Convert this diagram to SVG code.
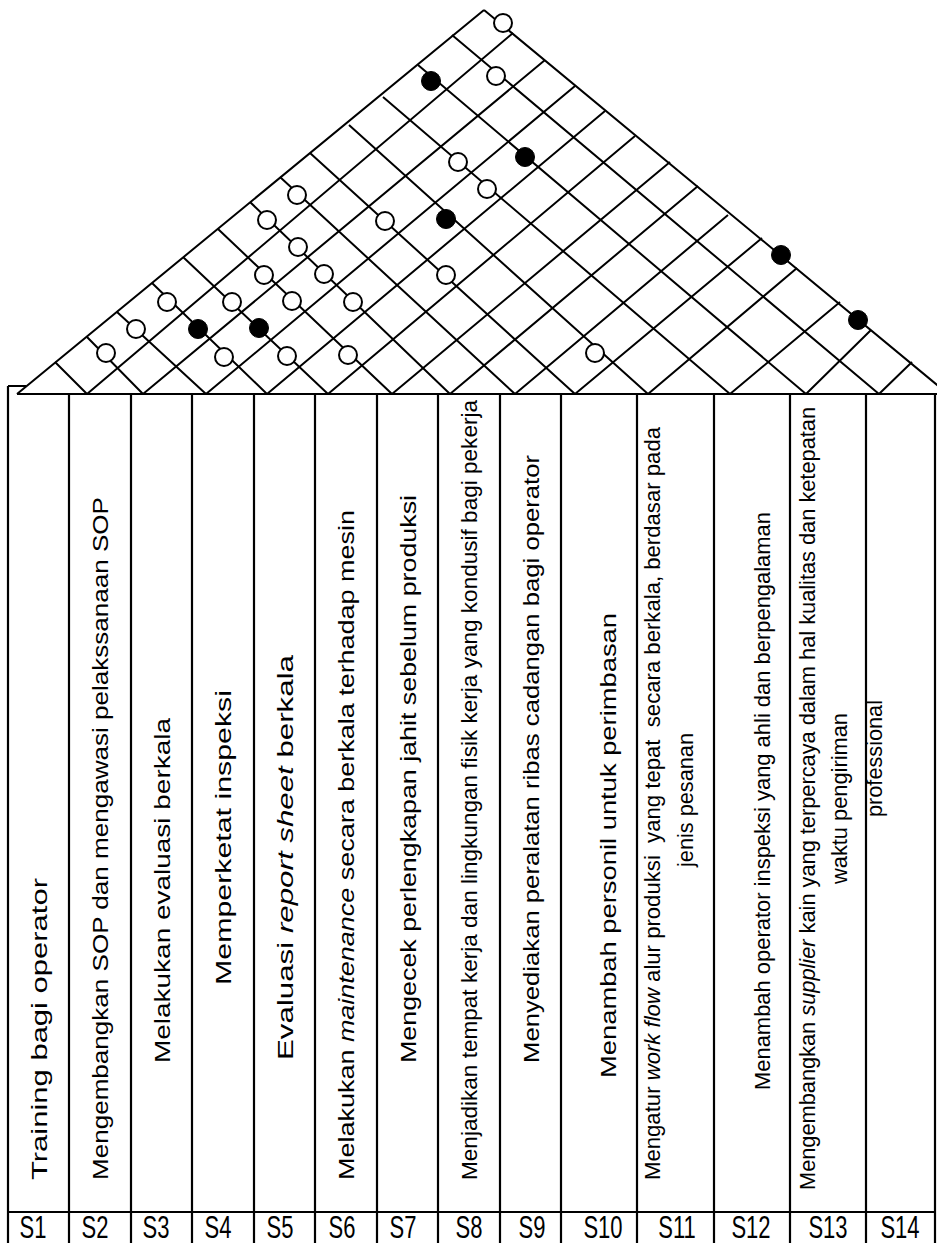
<svg xmlns="http://www.w3.org/2000/svg" width="937" height="1243" viewBox="0 0 937 1243">
<style>
.ln{stroke:#000;stroke-width:2;fill:none}
.tl{stroke:#000;stroke-width:2.2;fill:none}
.oc{fill:#fff;stroke:#000;stroke-width:2}
.fc{fill:#000;stroke:#000;stroke-width:1}
.t{font-family:"Liberation Sans",Arial,sans-serif;font-size:21.8px;fill:#000}
.s{font-family:"Liberation Sans",Arial,sans-serif;font-size:22px;fill:#000}
</style>
<rect width="937" height="1243" fill="#fff"/>
<g id="connectors">
<path class="ln" d="M17,394 L484,10 M484,10 L948,394 M17,394 L937,394"/>
<path class="ln" d="M87,394 L513,33 M143,394 L545,60 M206,394 L575,86 M267,394 L605,111 M328,394 L635,136 M392,394 L670,162 M450,394 L698,186 M515,394 L728,215 M575,394 L762,238 M648,394 L797,268 M730,394 L840,302 M806,394 L871,330 M879,394 L912,362"/>
<path class="ln" d="M55,362 L87,394 M87,337 L143,394 M117,312 L206,394 M152,283 L267,394 M183,257 L328,394 M218,229 L392,394 M250,202 L450,394 M280,177 L515,394 M310,153 L575,394 M349,125 L648,394 M383,97 L730,394 M418,65 L806,394 M452,35 L879,394"/>
</g>
<g id="correlations">
<circle class="oc" cx="503" cy="23" r="9"/>
<circle class="oc" cx="496" cy="76" r="9"/>
<circle class="oc" cx="458" cy="162" r="9"/>
<circle class="oc" cx="487" cy="189" r="9"/>
<circle class="oc" cx="297" cy="195" r="9"/>
<circle class="oc" cx="267" cy="220" r="9"/>
<circle class="oc" cx="385" cy="221" r="9"/>
<circle class="oc" cx="264" cy="275" r="9"/>
<circle class="oc" cx="324" cy="274" r="9"/>
<circle class="oc" cx="446" cy="275" r="9"/>
<circle class="oc" cx="298" cy="247" r="9"/>
<circle class="oc" cx="167" cy="302" r="9"/>
<circle class="oc" cx="232" cy="302" r="9"/>
<circle class="oc" cx="292" cy="301" r="9"/>
<circle class="oc" cx="353" cy="302" r="9"/>
<circle class="oc" cx="136" cy="329" r="9"/>
<circle class="oc" cx="106" cy="353" r="9"/>
<circle class="oc" cx="224" cy="357" r="9"/>
<circle class="oc" cx="287" cy="356" r="9"/>
<circle class="oc" cx="348" cy="355" r="9"/>
<circle class="oc" cx="595" cy="353" r="9"/>
<circle class="fc" cx="431" cy="81" r="9.5"/>
<circle class="fc" cx="525" cy="157" r="9.5"/>
<circle class="fc" cx="446" cy="219" r="9.5"/>
<circle class="fc" cx="198" cy="329" r="9.5"/>
<circle class="fc" cx="259" cy="328" r="9.5"/>
<circle class="fc" cx="781" cy="255" r="9.5"/>
<circle class="fc" cx="858" cy="320" r="9.5"/>
</g>
<g id="table">
<path class="tl" d="M8,386 L26,386 M8,386 L8,1243 M69,394 V1243 M131,394 V1243 M192,394 V1243 M254,394 V1243 M315,394 V1243 M377,394 V1243 M438,394 V1243 M500,394 V1243 M561,394 V1243 M637,394 V1243 M714,394 V1243 M790,394 V1243 M866,394 V1243 M935,394 V1243 M8,1212 H935"/>
</g>
<g id="S1"><text class="t" text-anchor="middle" textLength="302" lengthAdjust="spacingAndGlyphs" transform="translate(47,1029) rotate(-90)">Training bagi operator</text><text class="s" text-anchor="middle" transform="translate(33,1238) scale(1,1.4)">S1</text></g>
<g id="S2"><text class="t" text-anchor="middle" textLength="683" lengthAdjust="spacingAndGlyphs" transform="translate(108,838.5) rotate(-90)">Mengembangkan SOP dan mengawasi pelakssanaan SOP</text><text class="s" text-anchor="middle" transform="translate(95,1238) scale(1,1.4)">S2</text></g>
<g id="S3"><text class="t" text-anchor="middle" textLength="345" lengthAdjust="spacingAndGlyphs" transform="translate(170,890.5) rotate(-90)">Melakukan evaluasi berkala</text><text class="s" text-anchor="middle" transform="translate(156,1238) scale(1,1.4)">S3</text></g>
<g id="S4"><text class="t" text-anchor="middle" textLength="295" lengthAdjust="spacingAndGlyphs" transform="translate(231,837.5) rotate(-90)">Memperketat inspeksi</text><text class="s" text-anchor="middle" transform="translate(218,1238) scale(1,1.4)">S4</text></g>
<g id="S5"><text class="t" text-anchor="middle" textLength="405" lengthAdjust="spacingAndGlyphs" transform="translate(293,857.5) rotate(-90)">Evaluasi <tspan font-style="italic">report sheet</tspan> berkala</text><text class="s" text-anchor="middle" transform="translate(280,1238) scale(1,1.4)">S5</text></g>
<g id="S6"><text class="t" text-anchor="middle" textLength="670" lengthAdjust="spacingAndGlyphs" transform="translate(354,845) rotate(-90)">Melakukan <tspan font-style="italic">maintenance</tspan> secara berkala terhadap mesin</text><text class="s" text-anchor="middle" transform="translate(342,1238) scale(1,1.4)">S6</text></g>
<g id="S7"><text class="t" text-anchor="middle" textLength="568" lengthAdjust="spacingAndGlyphs" transform="translate(416,779) rotate(-90)">Mengecek perlengkapan jahit sebelum produksi</text><text class="s" text-anchor="middle" transform="translate(403,1238) scale(1,1.4)">S7</text></g>
<g id="S8"><text class="t" text-anchor="middle" textLength="780" lengthAdjust="spacingAndGlyphs" transform="translate(477,790) rotate(-90)">Menjadikan tempat kerja dan lingkungan fisik kerja yang kondusif bagi pekerja</text><text class="s" text-anchor="middle" transform="translate(469,1238) scale(1,1.4)">S8</text></g>
<g id="S9"><text class="t" text-anchor="middle" textLength="608" lengthAdjust="spacingAndGlyphs" transform="translate(539,759) rotate(-90)">Menyediakan peralatan ribas cadangan bagi operator</text><text class="s" text-anchor="middle" transform="translate(532,1238) scale(1,1.4)">S9</text></g>
<g id="S10"><text class="t" text-anchor="middle" textLength="465" lengthAdjust="spacingAndGlyphs" transform="translate(616,845.5) rotate(-90)">Menambah personil untuk perimbasan</text><text class="s" text-anchor="middle" transform="translate(603,1238) scale(1,1.4)">S10</text></g>
<g id="S11"><text class="t" text-anchor="middle" xml:space="preserve" textLength="753" lengthAdjust="spacingAndGlyphs" transform="translate(660,803.5) rotate(-90)">Mengatur <tspan font-style="italic">work flow</tspan> alur produksi  yang tepat  secara berkala, berdasar pada</text><text class="t" text-anchor="middle" textLength="134" lengthAdjust="spacingAndGlyphs" transform="translate(693,800) rotate(-90)">jenis pesanan</text><text class="s" text-anchor="middle" transform="translate(677,1238) scale(1,1.4)">S11</text></g>
<g id="S12"><text class="t" text-anchor="middle" textLength="578" lengthAdjust="spacingAndGlyphs" transform="translate(770,801) rotate(-90)">Menambah operator inspeksi yang ahli dan berpengalaman</text><text class="s" text-anchor="middle" transform="translate(751,1238) scale(1,1.4)">S12</text></g>
<g id="S13"><text class="t" text-anchor="middle" textLength="783" lengthAdjust="spacingAndGlyphs" transform="translate(815,798.5) rotate(-90)">Mengembangkan <tspan font-style="italic">supplier</tspan> kain yang terpercaya dalam hal kualitas dan ketepatan</text><text class="t" text-anchor="middle" textLength="171" lengthAdjust="spacingAndGlyphs" transform="translate(847,798.5) rotate(-90)">waktu pengiriman</text><text class="s" text-anchor="middle" transform="translate(828,1238) scale(1,1.4)">S13</text></g>
<g id="S14"><text class="t" text-anchor="middle" textLength="117" lengthAdjust="spacingAndGlyphs" transform="translate(882,758.5) rotate(-90)">professional</text><text class="s" text-anchor="middle" transform="translate(900,1238) scale(1,1.4)">S14</text></g>
</svg>
